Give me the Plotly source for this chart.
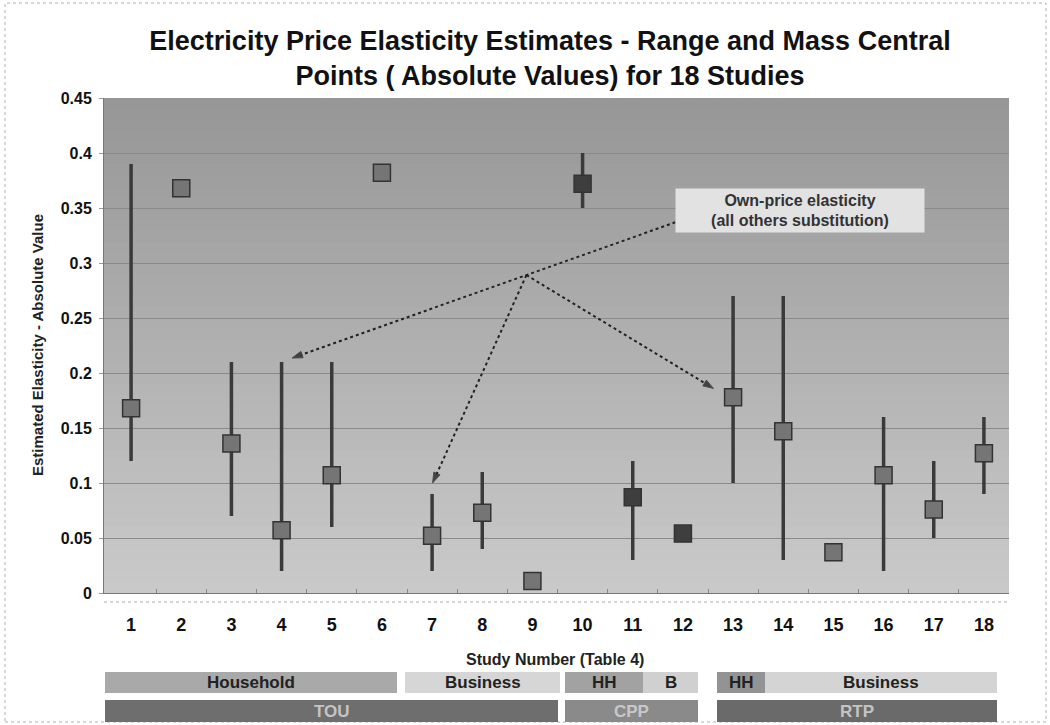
import plotly.graph_objects as go

# ---------------- data ----------------
studies = list(range(1, 19))
study_labels = [str(i) for i in studies]
central = [0.168, 0.368, 0.136, 0.057, 0.107, 0.382, 0.052, 0.073, 0.011,
           0.372, 0.087, 0.054, 0.178, 0.147, 0.037, 0.107, 0.076, 0.127]
range_low = [0.12, None, 0.07, 0.02, 0.06, None, 0.02, 0.04, None,
             0.35, 0.03, None, 0.10, 0.03, None, 0.02, 0.05, 0.09]
range_high = [0.39, None, 0.21, 0.21, 0.21, None, 0.09, 0.11, None,
              0.40, 0.12, None, 0.27, 0.27, None, 0.16, 0.12, 0.16]
program = ["TOU"] * 9 + ["CPP"] * 3 + ["RTP"] * 6
y_tickvals = [0, 0.05, 0.1, 0.15, 0.2, 0.25, 0.3, 0.35, 0.4, 0.45]
y_ticktext = ["0", "0.05", "0.1", "0.15", "0.2", "0.25", "0.3", "0.35", "0.4", "0.45"]

# annotation "Own-price elasticity" pointer geometry (data units)
box_anchor = (11.85, 0.337)
hub = (8.88, 0.289)
arrow_targets = [(4.21, 0.2136), (7.01, 0.100), (12.61, 0.186)]

# bottom legend boxes: (label, x0px, x1px, fill, textcolor)
row1 = [("Household", 105, 397, "#a9a9a9", "#222222"),
        ("Business", 405, 560, "#d6d6d6", "#222222"),
        ("HH", 565, 643, "#a2a2a2", "#222222"),
        ("B", 643, 698, "#d0d0d0", "#222222"),
        ("HH", 717, 765, "#939393", "#222222"),
        ("Business", 765, 997, "#d4d4d4", "#222222")]
row2 = [("TOU", 105, 558, "#6e6e6e", "#c4c4c4"),
        ("CPP", 565, 698, "#8a8a8a", "#c8c8c8"),
        ("RTP", 717, 997, "#6a6a6a", "#c4c4c4")]

FONT = "Liberation Sans, Arial, sans-serif"
W, H = 1050, 725
L, R, T, B = 104, 41, 98, 132
PW, PH = W - L - R, H - T - B


def fx(px):
    return (px - L) / PW


def fy(py):
    return (H - B - py) / PH


fig = go.Figure()

# range lines
lx, ly = [], []
for s, lo, hi in zip(studies, range_low, range_high):
    if lo is None:
        continue
    lx += [s, s, None]
    ly += [lo, hi, None]
fig.add_trace(go.Scatter(x=lx, y=ly, mode="lines",
                         line=dict(color="#3a3a3a", width=3.5),
                         hoverinfo="skip", showlegend=False))

# central points
colors = ["#3e3e3e" if p == "CPP" else "#757575" for p in program]
fig.add_trace(go.Scatter(x=studies, y=central, mode="markers",
                         marker=dict(symbol="square", size=17, color=colors,
                                     line=dict(color="#333333", width=1.5)),
                         showlegend=False))

# dotted arrows
paths = [[box_anchor, hub, arrow_targets[0]],
         [hub, arrow_targets[1]],
         [hub, arrow_targets[2]]]
for p in paths:
    xs = [q[0] for q in p]
    ys = [q[1] for q in p]
    sizes = [0] * (len(p) - 1) + [11]
    syms = ["circle"] * (len(p) - 1) + ["arrow"]
    fig.add_trace(go.Scatter(x=xs, y=ys, mode="lines+markers",
                             line=dict(color="#222222", width=2, dash="dot"),
                             marker=dict(symbol=syms, size=sizes, color="#111111",
                                         angleref="previous"),
                             hoverinfo="skip", showlegend=False))

shapes = []
# gradient background (bands)
nb = 45
c_bot, c_top = 202, 150
for k in range(nb):
    t = (k + 0.5) / nb
    c = int(round(c_bot + (c_top - c_bot) * t))
    shapes.append(dict(type="rect", xref="paper", yref="paper",
                       x0=0, x1=1, y0=k / nb, y1=(k + 1) / nb,
                       fillcolor=f"rgb({c},{c},{c})", line=dict(width=0),
                       layer="below"))
# floor dotted line
shapes.append(dict(type="line", xref="paper", yref="paper",
                   x0=0, x1=1, y0=fy(602), y1=fy(602),
                   line=dict(color="#aaaaaa", width=1, dash="dot")))
# page border
shapes.append(dict(type="rect", xref="paper", yref="paper",
                   x0=fx(5), x1=fx(1046), y0=fy(722), y1=fy(3),
                   line=dict(color="#b0b0b0", width=1, dash="dot")))

annotations = []
for row, (y0p, y1p) in ((row1, (672, 693)), (row2, (700, 722))):
    for lab, x0p, x1p, fill, tc in row:
        shapes.append(dict(type="rect", xref="paper", yref="paper",
                           x0=fx(x0p), x1=fx(x1p), y0=fy(y1p), y1=fy(y0p),
                           fillcolor=fill, line=dict(width=0)))
        annotations.append(dict(xref="paper", yref="paper",
                                x=fx((x0p + x1p) / 2), y=fy((y0p + y1p) / 2),
                                text=lab, showarrow=False,
                                font=dict(family=FONT, size=17, color=tc, weight="bold"),
                                xanchor="center", yanchor="middle"))

# callout box
annotations.append(dict(x=14.33, y=0.3477, xref="x", yref="y",
                        text="Own-price elasticity<br>(all others substitution)",
                        showarrow=False, bgcolor="#e2e2e2", width=248, height=43,
                        borderpad=0,
                        font=dict(family=FONT, size=16, color="#333333", weight="bold")))
# axis titles
annotations.append(dict(xref="paper", yref="paper", x=fx(37), y=fy(345),
                        text="Estimated Elasticity - Absolute Value", textangle=-90,
                        showarrow=False, xanchor="center", yanchor="middle",
                        font=dict(family=FONT, size=15, color="#222222", weight="bold")))
annotations.append(dict(xref="paper", yref="paper", x=fx(555), y=fy(659),
                        text="Study Number (Table 4)", showarrow=False,
                        xanchor="center", yanchor="middle",
                        font=dict(family=FONT, size=16, color="#222222", weight="bold")))

fig.update_layout(
    width=W, height=H, autosize=False,
    margin=dict(l=L, r=R, t=T, b=B, pad=0),
    paper_bgcolor="white", plot_bgcolor="rgba(0,0,0,0)",
    title=dict(text="Electricity Price Elasticity Estimates - Range and Mass Central<br>"
                    "Points ( Absolute Values) for 18 Studies",
               x=550 / W, xanchor="center", xref="container",
               y=1 - 50 / H, yanchor="middle", yref="container",
               font=dict(family=FONT, size=27, color="#111111", weight="bold")),
    xaxis=dict(range=[0.46, 18.5], tickvals=studies, ticktext=study_labels,
               showgrid=False, zeroline=False, showline=True, linecolor="#777777",
               ticks="outside", ticklen=15, tickcolor="rgba(0,0,0,0)",
               tickfont=dict(family=FONT, size=18, color="#111111", weight="bold"),
               minor=dict(tickvals=[s + 0.5 for s in studies[:-1]], ticks="inside",
                          ticklen=4, tickcolor="#888888", showgrid=False)),
    yaxis=dict(range=[0, 0.45], tickvals=y_tickvals, ticktext=y_ticktext,
               showgrid=True, gridcolor="#8a8a8a", gridwidth=1, zeroline=False,
               showline=True, linecolor="#777777",
               ticks="outside", ticklen=4, tickcolor="#999999", ticklabelstandoff=4,
               tickfont=dict(family=FONT, size=16, color="#111111", weight="bold")),
    shapes=shapes, annotations=annotations, showlegend=False,
)

fig.write_html("out.html")
